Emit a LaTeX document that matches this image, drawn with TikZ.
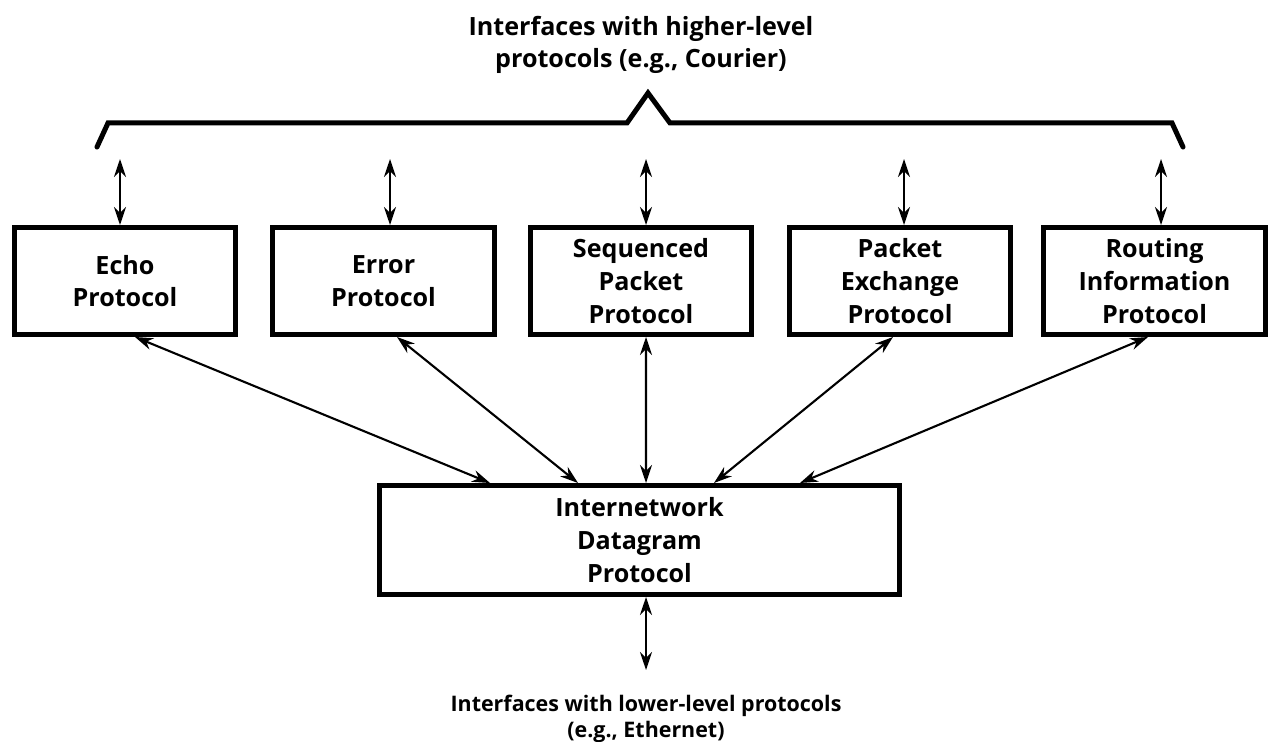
\documentclass[tikz,border=0pt]{standalone}
\usepackage{fontspec}
\setmainfont{Open Sans}
\usepackage{tikz}
\usetikzlibrary{arrows.meta, positioning, calc}

\tikzset{
  protobox/.style={draw, line width=0.1cm, minimum width=4.44cm, minimum height=2.14cm,
    align=center, inner sep=0pt, font=\bfseries\fontsize{14.3}{18.6}\selectfont},
  link/.style={line width=1.2pt, {Stealth[length=0.36cm,width=0.24cm]}-{Stealth[length=0.36cm,width=0.24cm]}},
  caption/.style={align=center, font=\bfseries\fontsize{14.3}{18.6}\selectfont}
}

\begin{document}
\begin{tikzpicture}[x=0.02cm, y=-0.02cm]
  % page frame
  \useasboundingbox (0,0) rectangle (1270,742);

  % Upper interface label and brace
  \node[caption] (upper) at (641,45) {Interfaces with higher-level\\protocols (e.g., Courier)};
  \draw[line width=0.1cm, line cap=round, line join=miter]
    (97,147) -- (108,123) -- (627,123) -- (648,93) -- (670,123) -- (1172,123) -- (1183,147);

  % Protocol boxes
  \node[protobox] (echo)    at (125,281)    {Echo\\Protocol};
  \node[protobox] (error)   at (383.5,281)  {Error\\Protocol};
  \node[protobox] (seq)     at (641,281)    {Sequenced\\Packet\\Protocol};
  \node[protobox] (pex)     at (900,281)    {Packet\\Exchange\\Protocol};
  \node[protobox] (rip)     at (1154.5,281) {Routing\\Information\\Protocol};

  \node[protobox, minimum width=10.4cm, minimum height=2.18cm] (idp) at (639.5,540)
    {Internetwork\\Datagram\\Protocol};

  % Up to the brace
  \coordinate (upEcho)  at (120,159);
  \coordinate (upError) at (390,159);
  \coordinate (upSeq)   at (646,159);
  \coordinate (upPex)   at (904,159);
  \coordinate (upRip)   at (1161,159);
  \draw[link] (upEcho)  -- (upEcho  |- echo.north);
  \draw[link] (upError) -- (upError |- error.north);
  \draw[link] (upSeq)   -- (upSeq   |- seq.north);
  \draw[link] (upPex)   -- (upPex   |- pex.north);
  \draw[link] (upRip)   -- (upRip   |- rip.north);

  % Down to the datagram protocol
  \draw[link] ([xshift=0.2cm]echo.south)   -- ([xshift=-2.99cm]idp.north);
  \draw[link] ([xshift=0.27cm]error.south) -- ([xshift=-1.23cm]idp.north);
  \draw[link] ([xshift=0.1cm]seq.south)    -- ([xshift=0.13cm]idp.north);
  \draw[link] ([xshift=-0.14cm]pex.south)  -- ([xshift=1.49cm]idp.north);
  \draw[link] ([xshift=-0.13cm]rip.south)  -- ([xshift=3.21cm]idp.north);

  % Lower interface
  \coordinate (lowEnd) at (646,670);
  \draw[link] (lowEnd |- idp.south) -- (lowEnd);
  \node[caption, font=\bfseries\fontsize{12.2}{14.7}\selectfont] (lower) at (646,719)
    {Interfaces with lower-level protocols\\(e.g., Ethernet)};
\end{tikzpicture}
\end{document}
